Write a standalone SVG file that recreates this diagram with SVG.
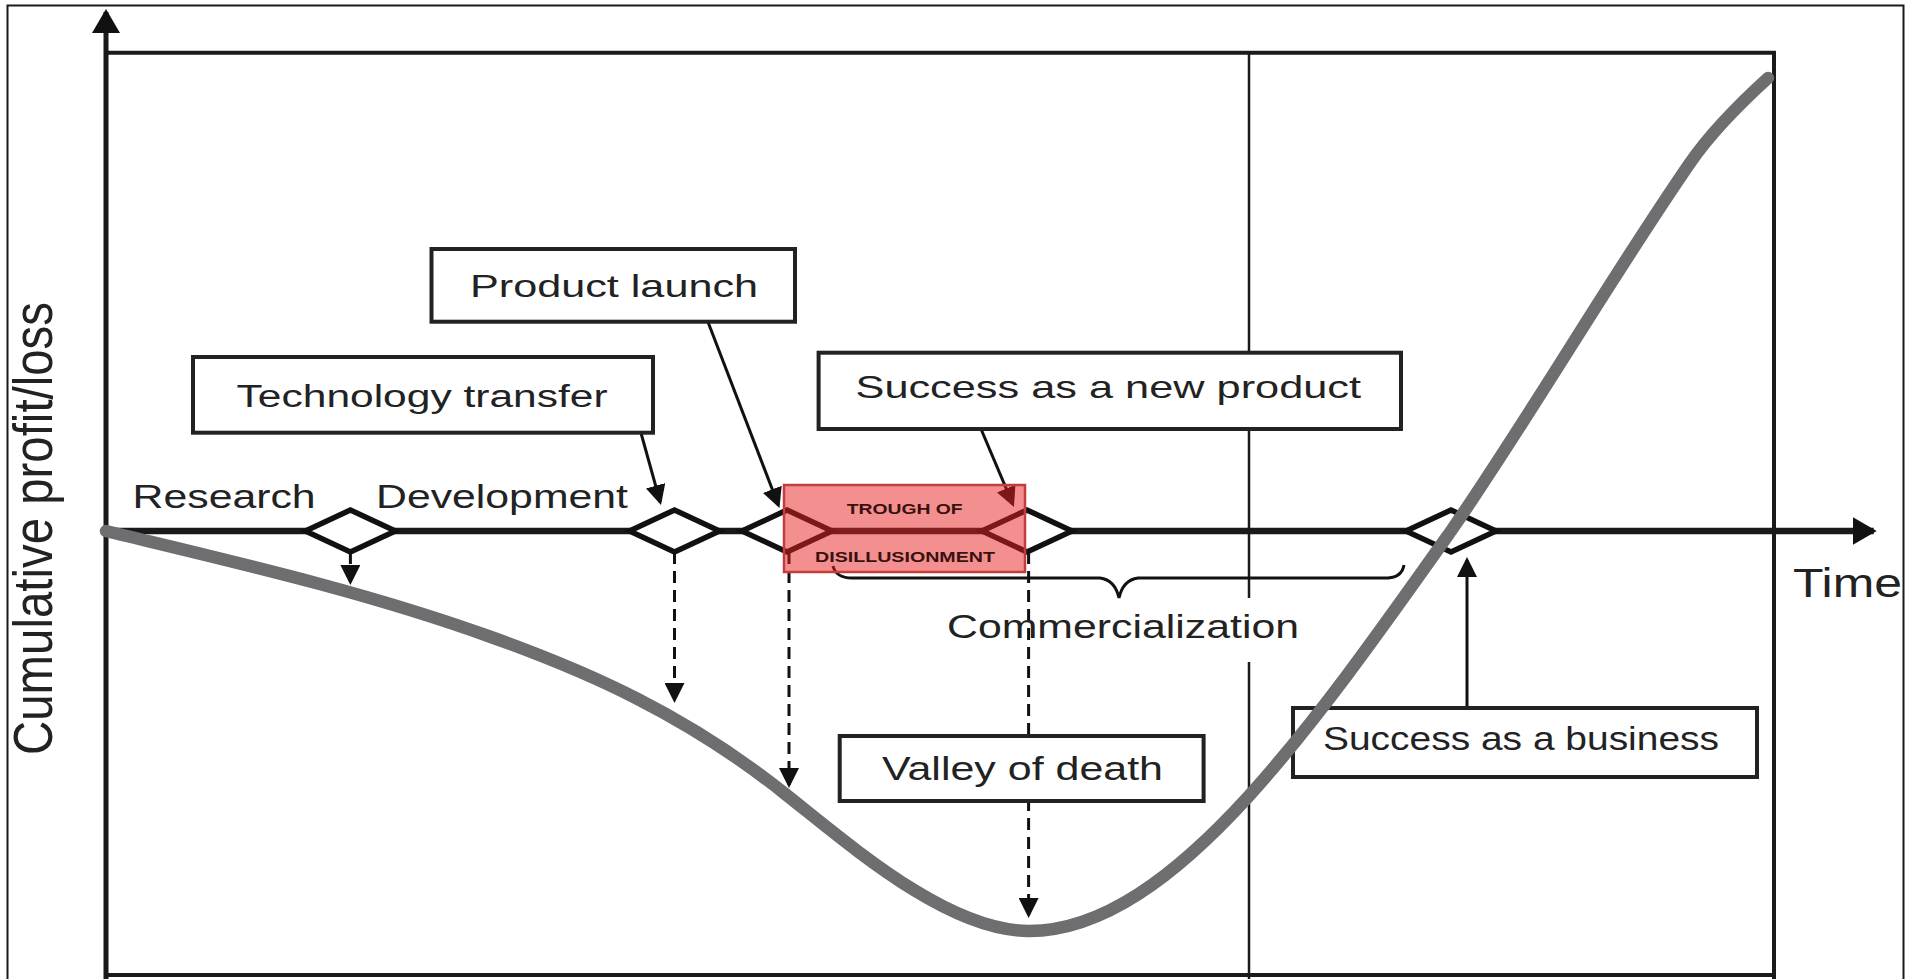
<svg xmlns="http://www.w3.org/2000/svg" width="1908" height="979" viewBox="0 0 1908 979">
<defs>
<style>
.txt{font-family:"Liberation Sans",Arial,sans-serif;fill:#222;}
.box{fill:#fff;stroke:#222;stroke-width:4;}
.dia{fill:#fff;stroke:#111;stroke-width:5.5;stroke-linejoin:miter;}
.con{stroke:#111;stroke-width:3;fill:none;}
.dash{stroke:#111;stroke-width:3;stroke-dasharray:12 7;fill:none;}
.frame{stroke:#1a1a1a;fill:none;}
.tr{font-family:"Liberation Sans",Arial,sans-serif;font-weight:bold;fill:#3b1010;}
</style>
<marker id="ah" viewBox="0 0 20 20" markerUnits="userSpaceOnUse" markerWidth="20" markerHeight="20" refX="17" refY="10" orient="auto">
<path d="M0,0 L20,10 L0,20 z" fill="#111"/>
</marker>
<marker id="big" viewBox="0 0 24 28" markerUnits="userSpaceOnUse" markerWidth="24" markerHeight="28" refX="21" refY="14" orient="auto">
<path d="M0,0 L24,14 L0,28 z" fill="#111"/>
</marker>
</defs>
<rect x="0" y="0" width="1908" height="979" fill="#fff"/>
<g id="frame">
<rect x="7.5" y="5.5" width="1896" height="990" class="frame" stroke-width="2"/>
<path d="M106,52.7 H1774 V979 M106,975 H1774" class="frame" stroke-width="4"/>
<line x1="106" y1="979" x2="106" y2="12" class="frame" stroke-width="5" marker-end="url(#big)"/>
<path d="M1249,52.7 V598 M1249,662 V979" class="frame" stroke-width="2.5"/>
<line x1="106" y1="531" x2="1873.7" y2="531" class="frame" stroke-width="6.5" marker-end="url(#big)"/>
</g>
<g id="connectors">
<line x1="350.4" y1="552" x2="350.4" y2="582" class="dash" marker-end="url(#ah)"/>
<line x1="674.5" y1="552" x2="674.5" y2="700" class="dash" marker-end="url(#ah)"/>
<line x1="789" y1="552" x2="789" y2="785" class="dash" marker-end="url(#ah)"/>
<line x1="1028.6" y1="552" x2="1028.6" y2="915" class="dash" marker-end="url(#ah)"/>
<line x1="641" y1="433" x2="660.2" y2="502.1" class="con" marker-end="url(#ah)"/>
<line x1="708" y1="322" x2="778.4" y2="505.2" class="con" marker-end="url(#ah)"/>
<line x1="981" y1="429" x2="1012.8" y2="504.2" class="con" marker-end="url(#ah)"/>
<line x1="1467" y1="708" x2="1467" y2="560" class="con" marker-end="url(#ah)"/>
<path d="M833,566 Q836,578 852,578 L1100,578 Q1115,580 1119,598 Q1123,580 1138,578 L1388,578 Q1402,577 1404,565" class="con"/>
</g>
<g id="milestone-research-end"><polygon points="305.4,531 350.4,510 395.4,531 350.4,552" class="dia"/></g>
<g id="milestone-tech-transfer"><polygon points="629.5,531 674.5,510 719.5,531 674.5,552" class="dia"/></g>
<g id="milestone-launch"><polygon points="742,531 787,510 832,531 787,552" class="dia"/></g>
<g id="milestone-new-product"><polygon points="982,531 1027,510 1072,531 1027,552" class="dia"/></g>
<g id="milestone-business"><polygon points="1406,531 1451,510 1496,531 1451,552" class="dia"/></g>
<g id="box-product-launch">
<rect x="431.5" y="249" width="363.5" height="72.7" class="box"/>
<text x="470" y="297" class="txt" font-size="32" textLength="288" lengthAdjust="spacingAndGlyphs">Product launch</text>
</g>
<g id="box-technology-transfer">
<rect x="193" y="357" width="460" height="75.7" class="box"/>
<text x="236.6" y="407" class="txt" font-size="31" textLength="371" lengthAdjust="spacingAndGlyphs">Technology transfer</text>
</g>
<g id="box-success-new-product">
<rect x="818.6" y="352.7" width="582.4" height="76.3" class="box"/>
<text x="855.5" y="398" class="txt" font-size="32" textLength="505.5" lengthAdjust="spacingAndGlyphs">Success as a new product</text>
</g>
<g id="box-valley-of-death">
<rect x="839.7" y="736" width="363.9" height="65" class="box"/>
<text x="882" y="780" class="txt" font-size="34" textLength="281" lengthAdjust="spacingAndGlyphs">Valley of death</text>
</g>
<g id="box-success-business">
<rect x="1293" y="708" width="464" height="69" class="box"/>
<text x="1323" y="750" class="txt" font-size="33" textLength="396" lengthAdjust="spacingAndGlyphs">Success as a business</text>
</g>
<g id="curve">
<path d="M106,531 C234,562 363,591 491,637 C589,672 686,715 784,793 C850,845 947,931 1029,931 C1102,931 1175,877 1248,797 C1316,722 1383,627 1451,531 C1531,415 1610,279 1690,163 C1712,131 1746,98 1768,78" fill="none" stroke="#6e6e70" stroke-width="12.5" stroke-linecap="round"/>
</g>
<g id="trough">
<rect x="784" y="485" width="241" height="87" fill="#e8211f" fill-opacity="0.5" stroke="#c43c3c" stroke-width="2.5"/>
<text x="846.7" y="514" class="tr" font-size="15" textLength="116" lengthAdjust="spacingAndGlyphs">TROUGH OF</text>
<text x="815" y="562" class="tr" font-size="15.5" textLength="180" lengthAdjust="spacingAndGlyphs">DISILLUSIONMENT</text>
</g>
<g id="labels">
<text x="132.6" y="508" class="txt" font-size="33" textLength="183" lengthAdjust="spacingAndGlyphs">Research</text>
<text x="376" y="508" class="txt" font-size="33" textLength="252" lengthAdjust="spacingAndGlyphs">Development</text>
<text x="1793" y="597" class="txt" font-size="41" textLength="109" lengthAdjust="spacingAndGlyphs">Time</text>
<text x="947" y="638" class="txt" font-size="33" textLength="352" lengthAdjust="spacingAndGlyphs">Commercialization</text>
<text transform="translate(52,755) scale(1.18,1) rotate(-90)" x="0" y="0" class="txt" font-size="47" textLength="453" lengthAdjust="spacingAndGlyphs">Cumulative profit/loss</text>
</g>
</svg>
